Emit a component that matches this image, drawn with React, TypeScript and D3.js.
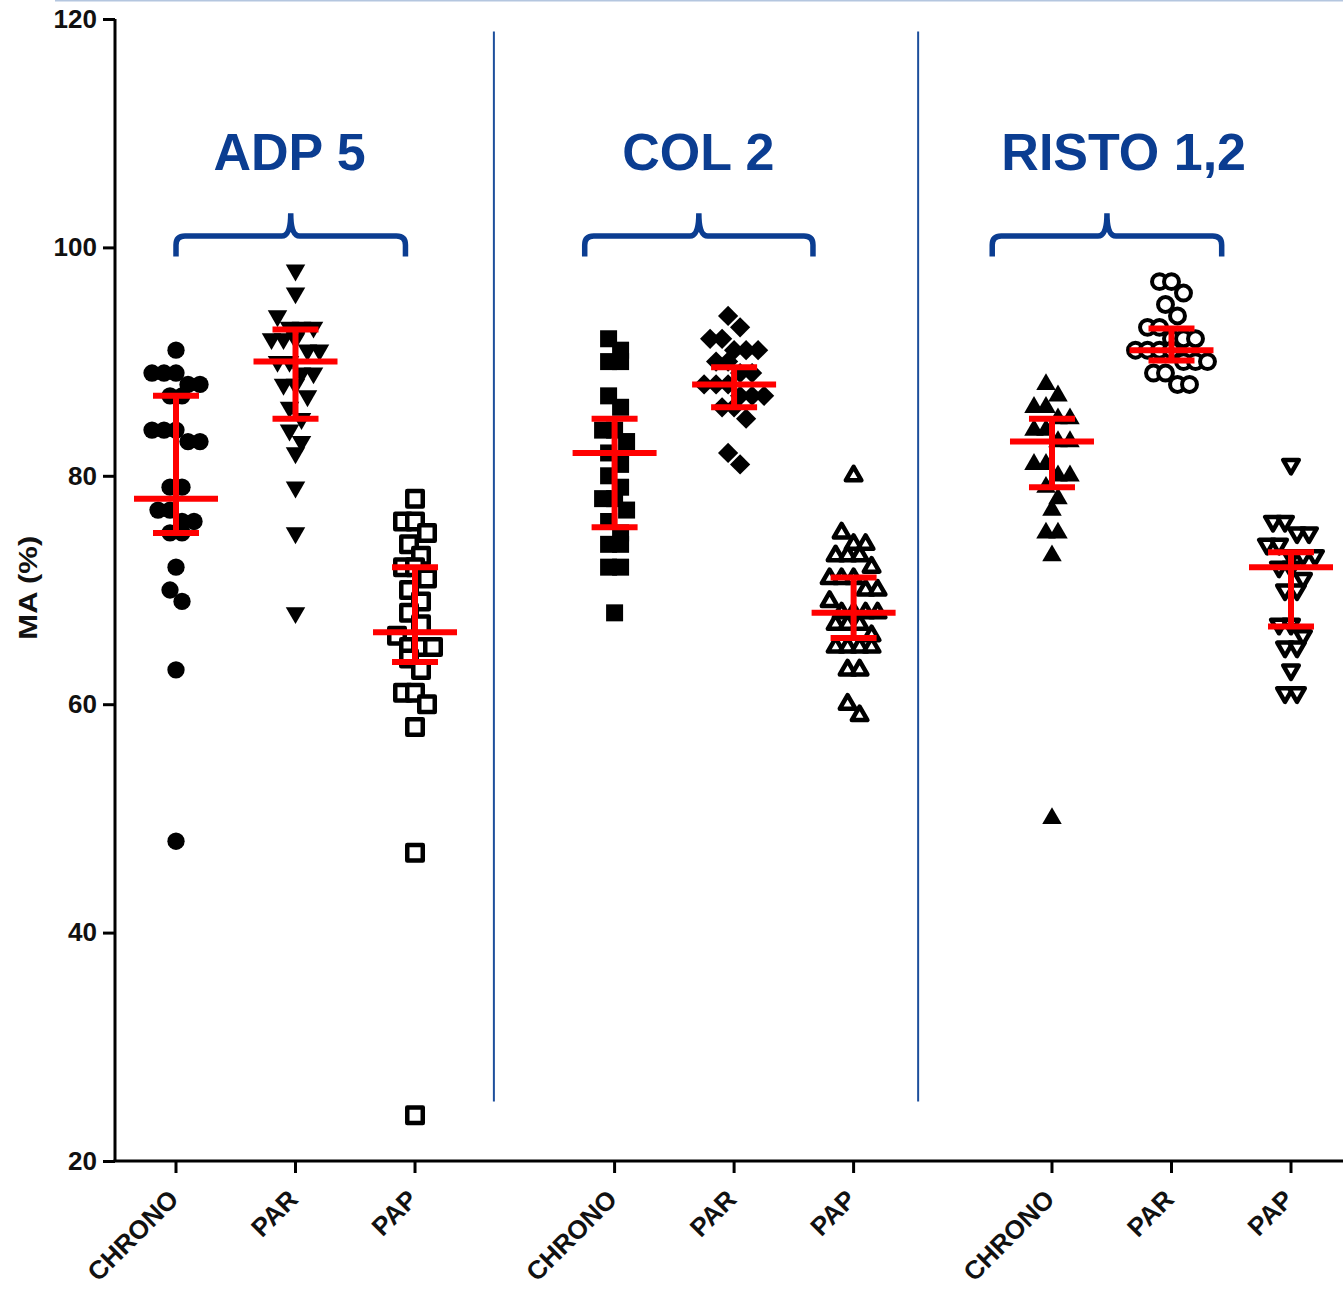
import React from 'react';
import * as d3 from 'd3';

const groups = ['ADP 5', 'COL 2', 'RISTO 1,2'];
const categories = ['CHRONO', 'PAR', 'PAP', 'CHRONO', 'PAR', 'PAP', 'CHRONO', 'PAR', 'PAP'];
// column position on the x axis, in column units (wider gap between groups)
const slots = [0, 1, 2, 3.67, 4.67, 5.67, 7.33, 8.33, 9.33];

const adpChrono = [91, 89, 89, 89, 88, 88, 87, 87, 84, 84, 84, 83, 83, 79, 79, 77, 77, 76, 76, 75, 75, 72, 70, 69, 63, 48];
const adpPar = [98, 96, 94, 93, 93, 93, 92, 92, 92, 91, 91, 90, 90, 89, 89, 88, 88, 87, 86, 85, 84, 83, 82, 79, 75, 68];
const adpPap = [78, 76, 76, 75, 74, 73, 72, 72, 71, 70, 69, 68, 67, 66, 65, 65, 65, 64, 63, 61, 61, 60, 58, 47, 24];
const colChrono = [92, 91, 90, 90, 87, 86, 84, 84, 83, 82, 81, 80, 79, 78, 78, 77, 76, 75, 74, 74, 72, 72, 68];
const colPar = [94, 93, 92, 92, 91, 91, 91, 90, 90, 89, 89, 88, 88, 88, 87, 87, 87, 86, 86, 85, 82, 81];
const colPap = [80, 75, 74, 74, 73, 73, 73, 72, 71, 71, 71, 70, 70, 69, 68, 68, 68, 68, 67, 67, 67, 66, 65, 65, 65, 65, 63, 63, 60, 59];
const ristoChrono = [88, 87, 86, 86, 85, 85, 84, 84, 83, 83, 81, 81, 80, 80, 79, 78, 77, 75, 75, 73, 50];
const ristoPar = [97, 97, 96, 95, 94, 93, 93, 92, 92, 92, 91, 91, 91, 91, 90, 90, 90, 89, 89, 88, 88];
const ristoPap = [81, 76, 76, 75, 75, 74, 74, 73, 73, 73, 72, 72, 71, 70, 70, 67, 67, 66, 65, 65, 63, 61, 61];

const series = [adpChrono, adpPar, adpPap, colChrono, colPar, colPap, ristoChrono, ristoPar, ristoPap];
const markers = ['circle', 'triangleDown', 'squareOpen', 'square', 'diamond', 'triangleOpen', 'triangle', 'circleOpen', 'triangleDownOpen'];

// median with interquartile range
const medians = [78, 90, 66.3, 82, 88, 68, 83, 91, 72];
const lowerQ = [75, 85, 63.7, 75.5, 86, 65.8, 79, 90.1, 66.8];
const upperQ = [87, 92.8, 72, 85, 89.5, 71.1, 85, 92.9, 73.3];

const yTicks = [20, 40, 60, 80, 100, 120];

// annotation overlay (column units / MA units)
const braceFrom = [0, 3.42, 6.83];
const braceTo = [1.92, 5.33, 8.75];
const titleAt = [0.95, 4.37, 7.93];
const separators = [2.66, 6.21];

const W = 1343, H = 1291;
const blue = '#0b3d91';
const font = '"Liberation Sans", Arial, sans-serif';

type Pt = { v: number; dx: number };

// Prism-like column scatter: bin points into rows, spread each row around the centre
function swarm(values: number[], y: d3.ScaleLinear<number, number>, step: number, rowH: number): Pt[] {
  const sorted = [...values].sort((a, b) => b - a);
  const rows: number[][] = [];
  let cur: number[] = [];
  let startY = -Infinity;
  sorted.forEach(v => {
    const py = y(v);
    if (py - startY >= rowH) {
      if (cur.length) rows.push(cur);
      cur = [];
      startY = py;
    }
    cur.push(v);
  });
  if (cur.length) rows.push(cur);
  const out: Pt[] = [];
  rows.forEach(row => row.forEach((v, k) => out.push({ v, dx: (k - (row.length - 1) / 2) * step })));
  return out;
}

function markerStyle(kind: string) {
  const sym = d3.symbol();
  let path = '', rot = 0, fill = '#000', stroke = 'none', sw = 0;
  switch (kind) {
    case 'circle': path = sym.type(d3.symbolCircle).size(235)()!; break;
    case 'circleOpen': path = sym.type(d3.symbolCircle).size(175)()!; fill = '#fff'; stroke = '#000'; sw = 4; break;
    case 'square': path = sym.type(d3.symbolSquare).size(289)()!; break;
    case 'squareOpen': path = sym.type(d3.symbolSquare).size(240)()!; fill = '#fff'; stroke = '#000'; sw = 4.5; break;
    case 'diamond': path = sym.type(d3.symbolSquare).size(205)()!; rot = 45; break;
    case 'triangle': path = sym.type(d3.symbolTriangle).size(165)()!; break;
    case 'triangleDown': path = sym.type(d3.symbolTriangle).size(165)()!; rot = 180; break;
    case 'triangleOpen': path = sym.type(d3.symbolTriangle).size(105)()!; fill = '#fff'; stroke = '#000'; sw = 4.5; break;
    case 'triangleDownOpen': path = sym.type(d3.symbolTriangle).size(105)()!; rot = 180; fill = '#fff'; stroke = '#000'; sw = 4.5; break;
  }
  return { path, rot, fill, stroke, sw };
}

const App = () => {
  const ref = React.useRef<SVGSVGElement>(null);

  React.useEffect(() => {
    const svg = d3.select(ref.current);
    svg.selectAll('*').remove();

    const x = d3.scaleLinear().domain([0, 9.33]).range([176, 1291]);
    const y = d3.scaleLinear().domain([20, 120]).range([1161, 19]);
    const axisX = 115;

    // faint frame line at the top
    svg.append('line')
      .attr('x1', 55).attr('x2', W).attr('y1', 0.5).attr('y2', 0.5)
      .attr('stroke', '#b4c6df').attr('stroke-width', 2);

    // y axis
    const yAxis = svg.append('g')
      .attr('transform', `translate(${axisX},0)`)
      .call(d3.axisLeft(y).tickValues(yTicks).tickSize(12).tickPadding(6).tickFormat(d3.format('d')));
    yAxis.attr('font-size', null).attr('font-family', null);
    yAxis.select('.domain').attr('stroke', '#000').attr('stroke-width', 3).attr('d', `M0,${y(120)}V${y(20)}`);
    yAxis.selectAll('.tick line').attr('stroke', '#000').attr('stroke-width', 3);
    yAxis.selectAll('.tick text')
      .attr('font-family', font).attr('font-size', 26).attr('font-weight', 'bold').attr('fill', '#111');

    // x axis
    svg.append('line')
      .attr('x1', axisX - 1.5).attr('x2', W).attr('y1', y(20)).attr('y2', y(20))
      .attr('stroke', '#000').attr('stroke-width', 3);
    const xt = svg.append('g').selectAll('g').data(slots).enter().append('g')
      .attr('transform', d => `translate(${x(d)},${y(20)})`);
    xt.append('line').attr('y1', 0).attr('y2', 12).attr('stroke', '#000').attr('stroke-width', 3);
    xt.append('text')
      .attr('transform', 'translate(4,40) rotate(-45)')
      .attr('text-anchor', 'end')
      .attr('font-family', font).attr('font-size', 26).attr('font-weight', 'bold').attr('fill', '#111')
      .text((_, i) => categories[i]);

    svg.append('text')
      .attr('transform', `translate(37,${y(70.2)}) rotate(-90)`)
      .attr('text-anchor', 'middle')
      .attr('font-family', font).attr('font-size', 25).attr('font-weight', 'bold').attr('fill', '#111')
      .attr('textLength', 104).attr('lengthAdjust', 'spacingAndGlyphs')
      .text('MA (%)');

    // group separators
    svg.selectAll('line.sep').data(separators).enter().append('line')
      .attr('class', 'sep')
      .attr('x1', d => x(d)).attr('x2', d => x(d))
      .attr('y1', y(118.9)).attr('y2', y(25.2))
      .attr('stroke', '#1d4f9c').attr('stroke-width', 2);

    // group titles and braces
    svg.selectAll('text.title').data(groups).enter().append('text')
      .attr('class', 'title')
      .attr('x', (_, i) => x(titleAt[i])).attr('y', y(106.8))
      .attr('text-anchor', 'middle')
      .attr('font-family', font).attr('font-size', 52).attr('font-weight', 'bold').attr('fill', blue)
      .text(d => d);

    const yTop = y(103), yLine = y(101), yEnd = y(99.2), r = 9;
    svg.selectAll('path.brace').data(groups).enter().append('path')
      .attr('class', 'brace')
      .attr('d', (_, i) => {
        const x0 = x(braceFrom[i]), x1 = x(braceTo[i]), xm = (x0 + x1) / 2;
        return `M${x0},${yEnd}V${yLine + r}Q${x0},${yLine} ${x0 + r},${yLine}H${xm - r}Q${xm},${yLine} ${xm},${yTop}` +
          `M${x1},${yEnd}V${yLine + r}Q${x1},${yLine} ${x1 - r},${yLine}H${xm + r}Q${xm},${yLine} ${xm},${yTop}`;
      })
      .attr('fill', 'none').attr('stroke', blue).attr('stroke-width', 5.5).attr('stroke-linejoin', 'round');

    // points
    series.forEach((vals, i) => {
      const m = markerStyle(markers[i]);
      const pts = swarm(vals, y, 12, 16);
      svg.append('g').selectAll('path').data(pts).enter().append('path')
        .attr('d', m.path)
        .attr('transform', d => `translate(${x(slots[i]) + d.dx},${y(d.v)}) rotate(${m.rot})`)
        .attr('fill', m.fill).attr('stroke', m.stroke).attr('stroke-width', m.sw)
        .attr('stroke-linejoin', 'round');
    });

    // median + IQR in red
    const red = '#ff0000';
    const eb = svg.append('g').selectAll('g').data(slots).enter().append('g')
      .attr('transform', d => `translate(${x(d)},0)`);
    eb.append('line')
      .attr('y1', (_, i) => y(lowerQ[i])).attr('y2', (_, i) => y(upperQ[i]))
      .attr('stroke', red).attr('stroke-width', 6);
    eb.append('line')
      .attr('x1', -23).attr('x2', 23)
      .attr('y1', (_, i) => y(upperQ[i])).attr('y2', (_, i) => y(upperQ[i]))
      .attr('stroke', red).attr('stroke-width', 6);
    eb.append('line')
      .attr('x1', -23).attr('x2', 23)
      .attr('y1', (_, i) => y(lowerQ[i])).attr('y2', (_, i) => y(lowerQ[i]))
      .attr('stroke', red).attr('stroke-width', 6);
    eb.append('line')
      .attr('x1', -42).attr('x2', 42)
      .attr('y1', (_, i) => y(medians[i])).attr('y2', (_, i) => y(medians[i]))
      .attr('stroke', red).attr('stroke-width', 6);
  }, []);

  return (
    <>
      <style>{'body{margin:0}'}</style>
      <svg ref={ref} width={W} height={H} style={{ display: 'block', background: '#fff' }} />
    </>
  );
};

export default App;
